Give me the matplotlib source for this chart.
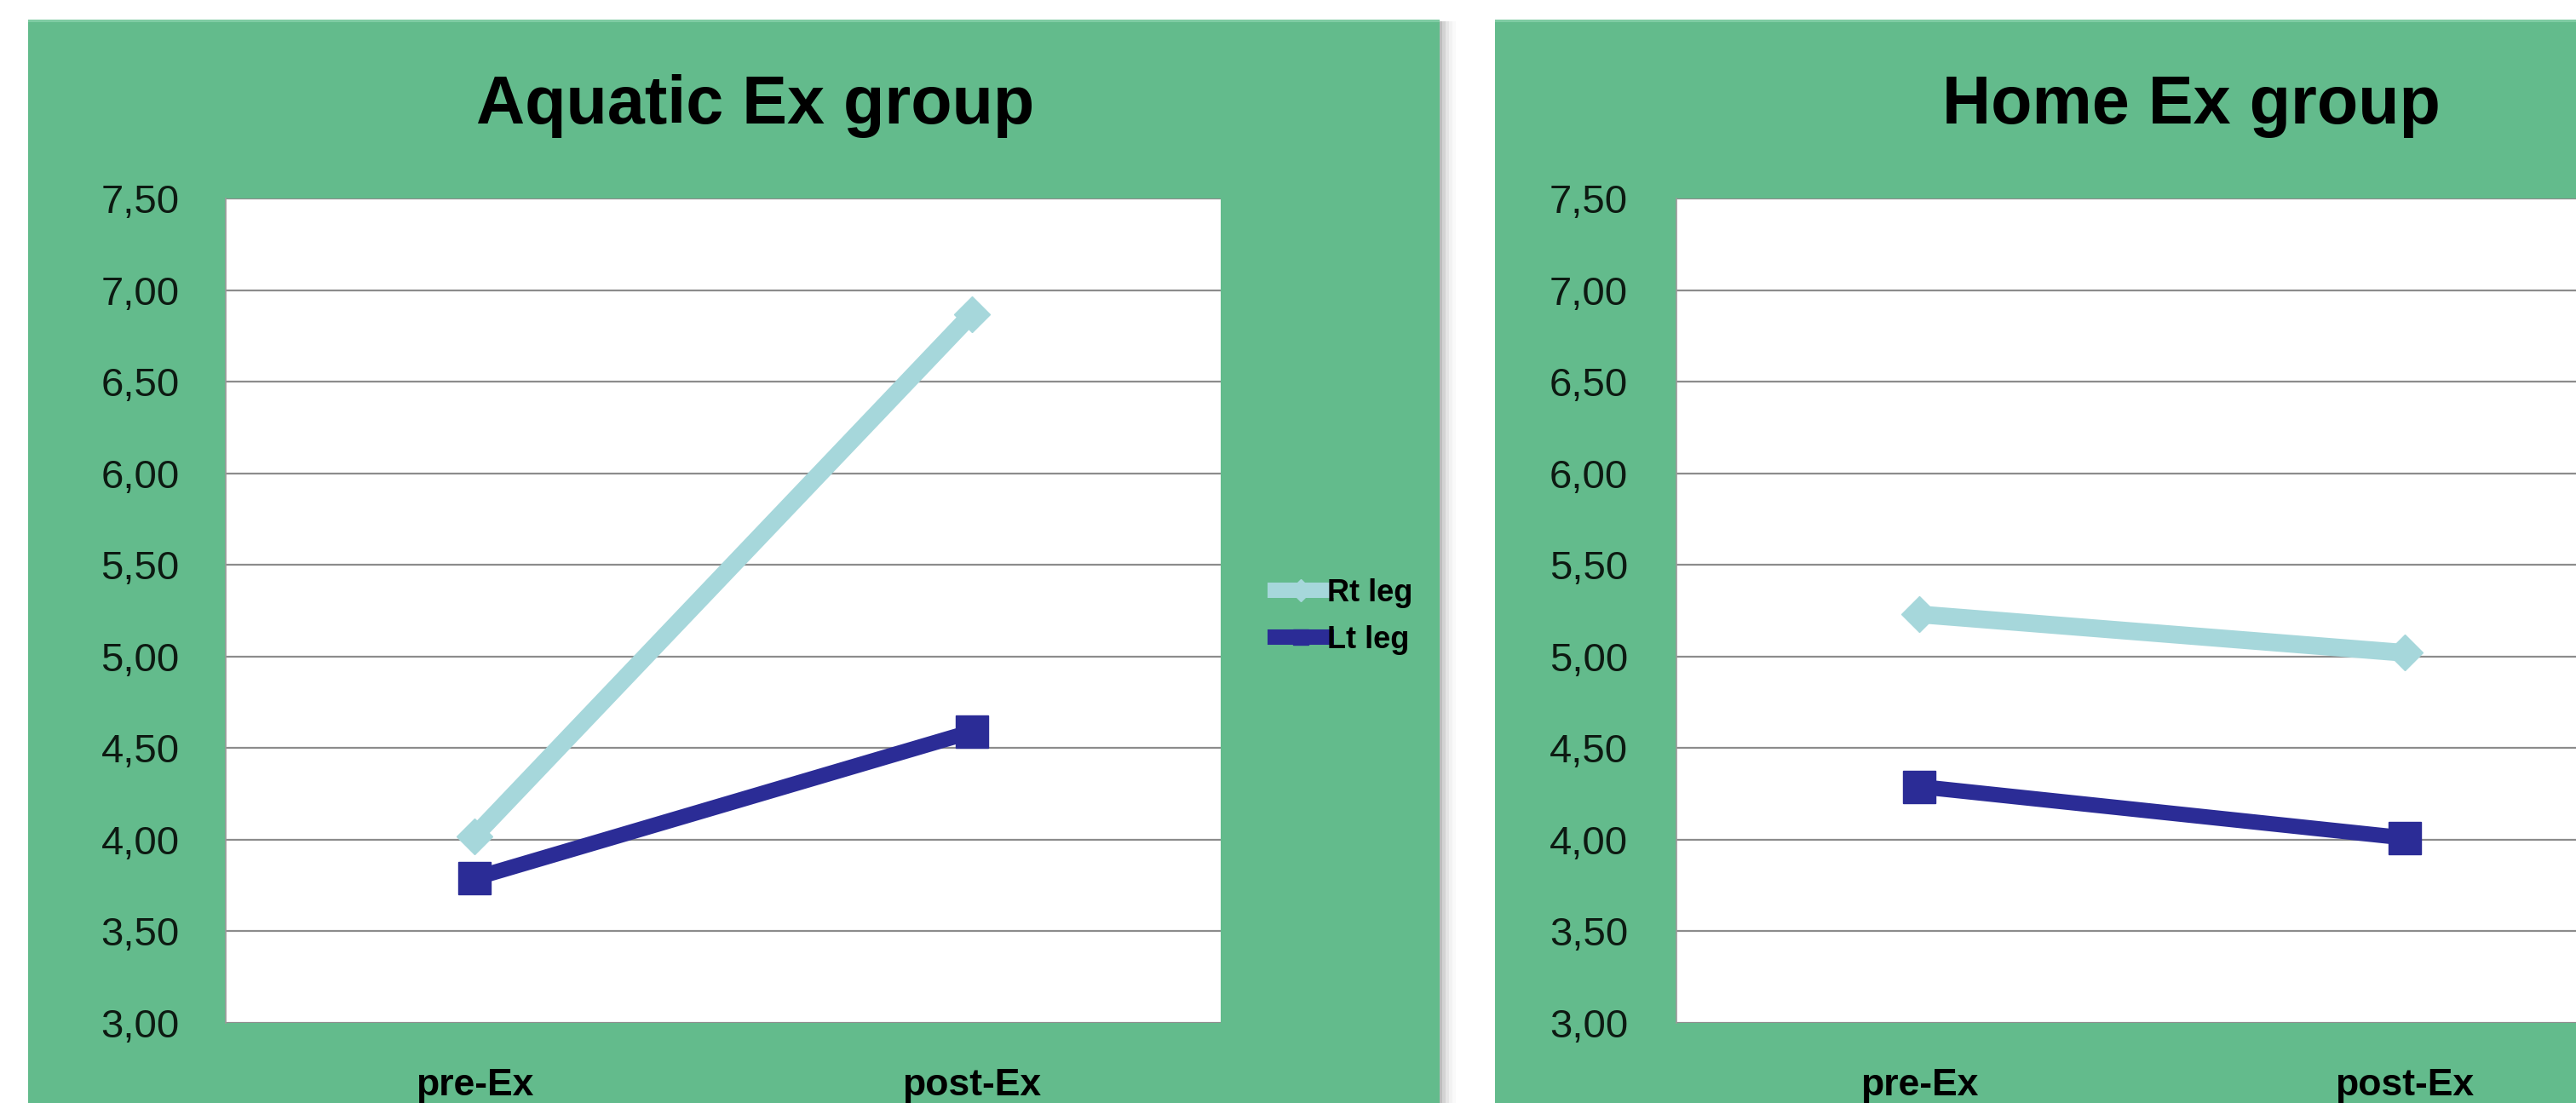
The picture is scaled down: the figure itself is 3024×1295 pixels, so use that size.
"""Pre/post exercise comparison for the aquatic and home exercise groups."""

import matplotlib
matplotlib.use("Agg")
from matplotlib import pyplot as plt
from matplotlib.lines import Line2D
from matplotlib.patches import Rectangle

# Data
phases = ["pre-Ex", "post-Ex"]
series_names = ["Rt leg", "Lt leg"]
aquatic_rt = [4.02, 6.87]
aquatic_lt = [3.79, 4.59]
home_rt = [5.23, 5.02]
home_lt = [4.29, 4.01]
y_ticks = [3.00, 3.50, 4.00, 4.50, 5.00, 5.50, 6.00, 6.50, 7.00, 7.50]

W, H = 3024, 1295
DPI = 100
GREEN = "#63BB8C"
RT_COLOR = "#A6D7DB"
LT_COLOR = "#2B2C96"
GRID = "#8C8C8C"
TICK_COLOR = "#0D1A12"

plt.rcParams["font.family"] = ["Liberation Sans", "DejaVu Sans"]

fig = plt.figure(figsize=(W / DPI, H / DPI), dpi=DPI)
fig.patch.set_facecolor("white")


def px_rect(x0, y0, x1, y1):
    """Convert a pixel box (top-left origin) to figure fractions."""
    return [x0 / W, 1 - y1 / H, (x1 - x0) / W, (y1 - y0) / H]


def add_panel(x0, x1, top=23):
    # soft shadow on the right/bottom edge
    for i, a in enumerate([0.10, 0.07, 0.05, 0.03, 0.02]):
        fig.patches.append(Rectangle(((x0 + 3 + 2 * i) / W, -0.1),
                                     (x1 - x0 + 2 * i) / W, 1.1 - (top + 2) / H,
                                     transform=fig.transFigure, color="black",
                                     alpha=a, lw=0, zorder=0))
    fig.patches.append(Rectangle((x0 / W, -0.1), (x1 - x0) / W, 1.1 - top / H,
                                 transform=fig.transFigure, color=GREEN,
                                 lw=0, zorder=1))
    # lighter rim along the top edge
    fig.patches.append(Rectangle((x0 / W, 1 - (top + 3) / H), (x1 - x0) / W, 3 / H,
                                 transform=fig.transFigure, color="#7FCCA3",
                                 lw=0, zorder=1))


def draw_chart(ax, rt, lt, label_pad):
    x = list(range(len(phases)))
    ax.set_facecolor("white")
    ax.plot(x, rt, color=RT_COLOR, lw=15, marker="D", ms=21,
            solid_joinstyle="miter", zorder=3)
    ax.plot(x, lt, color=LT_COLOR, lw=13, marker="s", ms=28,
            solid_joinstyle="miter", zorder=4)
    ax.set_xlim(-0.5, len(phases) - 0.5)
    ax.set_ylim(y_ticks[0], y_ticks[-1])
    ax.set_yticks(y_ticks)
    ax.set_yticklabels([f"{v:.2f}".replace(".", ",") for v in y_ticks])
    ax.set_xticks(x)
    ax.set_xticklabels(phases, fontweight="bold")
    for v in y_ticks:
        ax.axhline(v, color=GRID, lw=1.6, zorder=1)
    ax.tick_params(axis="y", length=0, pad=label_pad, labelsize=34,
                   labelcolor=TICK_COLOR)
    ax.tick_params(axis="x", length=0, pad=38, labelsize=32, labelcolor="black")
    for side in ["top", "right", "bottom"]:
        ax.spines[side].set_visible(False)
    ax.spines["left"].set_color("#9A9A9A")
    ax.spines["left"].set_linewidth(1.2)


# Aquatic exercise panel
add_panel(33, 1690)
ax1 = fig.add_axes(px_rect(265, 233, 1433, 1201), zorder=5)
draw_chart(ax1, aquatic_rt, aquatic_lt, label_pad=39)
fig.text(887 / W, 1 - 124 / H, "Aquatic Ex group", ha="center", va="center",
         fontsize=57, fontweight="bold", color="black", zorder=6)

# Home exercise panel
add_panel(1755, 3200)
ax2 = fig.add_axes(px_rect(1968, 233, 3108, 1201), zorder=5)
draw_chart(ax2, home_rt, home_lt, label_pad=41)
fig.text(2572 / W, 1 - 124 / H, "Home Ex group", ha="center", va="center",
         fontsize=57, fontweight="bold", color="black", zorder=6)

# Legend for the aquatic panel
handles = [
    Line2D([], [], color=RT_COLOR, lw=13, marker="D", ms=13),
    Line2D([], [], color=LT_COLOR, lw=13, marker="s", ms=13),
]
fig.legend(handles, series_names, loc="center left",
           bbox_to_anchor=(1497 / W, 1 - 724 / H), frameon=False,
           prop={"weight": "bold", "size": 26}, handlelength=1.65,
           handletextpad=0.05, labelspacing=0.55, borderpad=0, borderaxespad=0)

fig.savefig("out.png", dpi=DPI, facecolor="white")
